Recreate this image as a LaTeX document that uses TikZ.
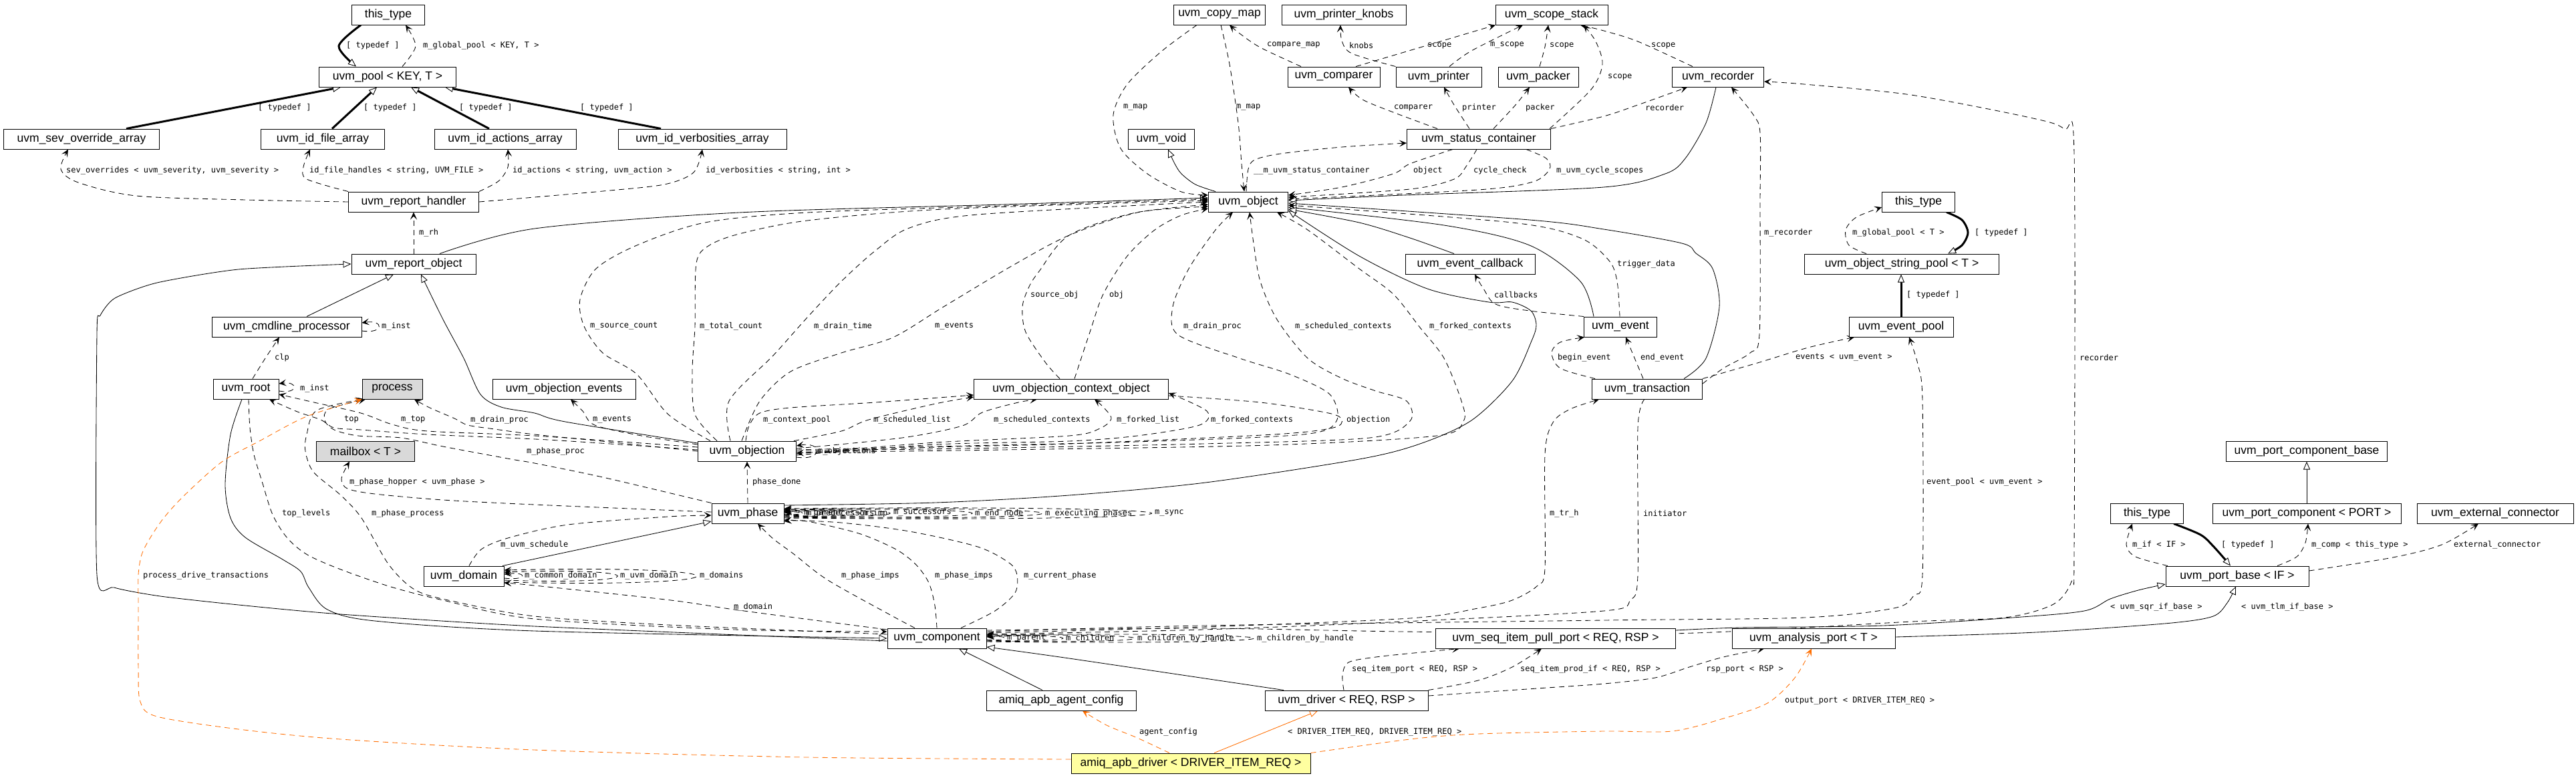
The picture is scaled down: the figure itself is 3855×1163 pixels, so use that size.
\documentclass[tikz,border=0pt]{standalone}
\usepackage{fontspec}
\setmainfont{Liberation Sans}
\newfontfamily\monofnt{DejaVu Sans Mono}
\usetikzlibrary{arrows.meta}
\pgfdeclarelayer{bg}
\pgfsetlayers{bg,main}
\definecolor{orng}{RGB}{255,110,0}
\definecolor{gryf}{RGB}{217,217,217}
\definecolor{ylwf}{RGB}{255,255,160}
\newcommand\nodefnt{\fontsize{17.5}{20}\selectfont}
\newcommand\lblfnt{\monofnt\fontsize{12}{14}\selectfont}
\tikzset{
 cls/.style={draw,line width=1pt,fill=white,minimum height=30pt,inner sep=0pt,font=\nodefnt},
 lbl/.style={font=\lblfnt,inner sep=0pt,anchor=west},
 usg/.style={draw,line width=0.85pt,dash pattern=on 8pt off 6pt,-{Stealth[length=11pt,width=10pt,inset=5pt]}},
 inhr/.style={draw,line width=0.85pt,-{Triangle[length=12pt,width=10pt,line width=0.85pt,fill=white]}},
 tdf/.style={draw,line width=3pt,-{Triangle[length=12pt,width=10pt,line width=0.85pt,fill=white]}},
 org/.style={draw=orng,color=orng},
}
\begin{document}
\begin{tikzpicture}[x=1pt,y=-1pt]
\useasboundingbox (0,0) rectangle (3855,1163);
% ---------- nodes ----------
\node[cls,minimum width=109pt] (tt1) at (581,22) {this\_type};
\node[cls,minimum width=137pt] (copymap) at (1825,22) {uvm\_copy\_map};
\node[cls,minimum width=186pt] (knobs) at (2011,22) {uvm\_printer\_knobs};
\node[cls,minimum width=168pt] (scope) at (2322,22) {uvm\_scope\_stack};
\node[cls,minimum width=205pt] (pool) at (580,115) {uvm\_pool < KEY, T >};
\node[cls,minimum width=138pt] (comparer) at (1996,115) {uvm\_comparer};
\node[cls,minimum width=128pt] (printer) at (2153,115) {uvm\_printer};
\node[cls,minimum width=120pt] (packer) at (2302,115) {uvm\_packer};
\node[cls,minimum width=137pt] (recorder) at (2571,115) {uvm\_recorder};
\node[cls,minimum width=233pt] (sev) at (122,208) {uvm\_sev\_override\_array};
\node[cls,minimum width=185pt] (idfile) at (483,208) {uvm\_id\_file\_array};
\node[cls,minimum width=212pt] (idact) at (756,208) {uvm\_id\_actions\_array};
\node[cls,minimum width=252pt] (idverb) at (1051,208) {uvm\_id\_verbosities\_array};
\node[cls,minimum width=99pt] (void) at (1738,208) {uvm\_void};
\node[cls,minimum width=215pt] (status) at (2213,208) {uvm\_status\_container};
\node[cls,minimum width=195pt] (rh) at (619,302) {uvm\_report\_handler};
\node[cls,minimum width=119pt] (obj) at (1868,302) {uvm\_object};
\node[cls,minimum width=109pt] (tt2) at (2871,302) {this\_type};
\node[cls,minimum width=186pt] (ro) at (619,395) {uvm\_report\_object};
\node[cls,minimum width=194pt] (evcb) at (2200,395) {uvm\_event\_callback};
\node[cls,minimum width=291pt] (osp) at (2846,395) {uvm\_object\_string\_pool < T >};
\node[cls,minimum width=224pt] (clp) at (429,489) {uvm\_cmdline\_processor};
\node[cls,minimum width=109pt] (event) at (2425,489) {uvm\_event};
\node[cls,minimum width=156pt] (evpool) at (2845,489) {uvm\_event\_pool};
\node[cls,minimum width=98pt] (root) at (368,582) {uvm\_root};
\node[cls,minimum width=90pt,fill=gryf] (process) at (587,582) {process};
\node[cls,minimum width=214pt] (objev) at (844,582) {uvm\_objection\_events};
\node[cls,minimum width=291pt] (ctx) at (1603,582) {uvm\_objection\_context\_object};
\node[cls,minimum width=165pt] (tr) at (2465,582) {uvm\_transaction};
\node[cls,minimum width=147pt,fill=gryf] (mailbox) at (547,675) {mailbox < T >};
\node[cls,minimum width=147pt] (objection) at (1118,675) {uvm\_objection};
\node[cls,minimum width=241pt] (pcb) at (3452,675) {uvm\_port\_component\_base};
\node[cls,minimum width=108pt] (phase) at (1119,768) {uvm\_phase};
\node[cls,minimum width=109pt] (tt3) at (3213,768) {this\_type};
\node[cls,minimum width=282pt] (pc) at (3452,768) {uvm\_port\_component < PORT >};
\node[cls,minimum width=234pt] (ext) at (3734,768) {uvm\_external\_connector};
\node[cls,minimum width=120pt] (domain) at (694,862) {uvm\_domain};
\node[cls,minimum width=214pt] (pb) at (3348,862) {uvm\_port\_base < IF >};
\node[cls,minimum width=148pt] (comp) at (1402,955) {uvm\_component};
\node[cls,minimum width=359pt] (sipp) at (2328,955) {uvm\_seq\_item\_pull\_port < REQ, RSP >};
\node[cls,minimum width=244pt] (ap) at (2714,955) {uvm\_analysis\_port < T >};
\node[cls,minimum width=224pt] (cfg) at (1588,1048) {amiq\_apb\_agent\_config};
\node[cls,minimum width=244pt] (drv) at (2015,1048) {uvm\_driver < REQ, RSP >};
\node[cls,minimum width=358pt,fill=ylwf] (amiq) at (1782,1142) {amiq\_apb\_driver < DRIVER\_ITEM\_REQ >};
% ---------- edges ----------
\begin{pgfonlayer}{bg}
\fill[white] (0,0) rectangle (3855,1163);
% top-left cluster
\draw[tdf] plot[smooth] coordinates {([xshift=-41pt]tt1.south) (507,69) ([xshift=-47pt]pool.north)};
\draw[usg] plot[smooth] coordinates {([xshift=22pt]pool.north) (622,69) ([xshift=26pt]tt1.south)};
\draw[tdf] ([xshift=67pt]sev.north) -- ([xshift=-70pt]pool.south);
\draw[tdf] ([xshift=14pt]idfile.north) -- ([xshift=-16pt]pool.south);
\draw[tdf] ([xshift=-24pt]idact.north) -- ([xshift=35pt]pool.south);
\draw[tdf] ([xshift=-62pt]idverb.north) -- ([xshift=86pt]pool.south);
\draw[usg] plot[smooth] coordinates {(rh.west) (367,299) (204,293) (117,273) (91,253) ([xshift=-20pt]sev.south)};
\draw[usg] plot[smooth] coordinates {(rh.north west) (459,268) (454,250) ([xshift=-19pt]idfile.south)};
\draw[usg] plot[smooth] coordinates {(rh.north east) (746,271) (760,250) ([xshift=4pt]idact.south)};
\draw[usg] plot[smooth] coordinates {(rh.east) (800,295) (902,286) (994,276) (1038,258) (idverb.south)};
\draw[usg] (ro.north) -- (rh.south);
\draw[inhr] plot[smooth] coordinates {([xshift=39pt]ro.north) (800,342) (1106,318) (1500,306) ([yshift=6pt]obj.west)};
\draw[inhr] ([xshift=30pt]clp.north) -- ([xshift=-30pt]ro.south);
\draw[usg] ([yshift=-6pt]clp.east) .. controls (575,500) and (575,478) .. ([yshift=6pt]clp.east);
\draw[usg] plot[smooth] coordinates {([xshift=10pt]root.north) (397,536) ([xshift=-11pt]clp.south)};
\draw[usg] ([yshift=-3pt]root.east) .. controls (447,590) and (447,570) .. ([yshift=8pt]root.east);
% objection to root / process / events / report_object
\draw[usg] plot[smooth] coordinates {([yshift=6pt]objection.west) (800,652) (640,645) (587,635) (540,618) (470,602) ([yshift=-8pt]root.east)};
\draw[usg] plot[smooth] coordinates {([yshift=2pt]objection.west) (820,658) (640,650) (540,643) (500,640) (480,628) (445,616) ([xshift=35pt]root.south)};
\draw[usg] plot[smooth] coordinates {(objection.west) (900,660) (800,650) (740,642) (700,636) (680,626) (643,610) ([xshift=33pt]process.south)};
\draw[usg] plot[smooth] coordinates {([yshift=10pt]objection.west) (960,652) (890,636) (872,615) ([xshift=10pt]objev.south)};
\draw[inhr] plot[smooth] coordinates {([yshift=12pt]objection.west) (846,631) (800,618) (750,609) (719,590) (694,536) (663,478) ([xshift=11pt]ro.south)};
% phase left side
\draw[usg] plot[smooth] coordinates {(phase.north west) (902,714) (800,693) (765,687) (663,668) (600,655) (536,652) (500,643) (486,629) (492,612) ([xshift=-40pt]process.south)};
\draw[usg] plot[smooth] coordinates {([yshift=2pt]phase.west) (800,755) (663,748) (561,739) (520,731) (511,716) ([xshift=-24pt]mailbox.south)};
\draw[usg] plot[smooth] coordinates {([xshift=8pt]domain.north) (720,822) (760,805) (850,785) (1000,773) ([yshift=-3pt]phase.west)};
\draw[inhr] ([xshift=58pt]domain.north) -- ([yshift=-12pt]phase.west);
% component left side
\draw[usg] plot[smooth] coordinates {([yshift=6pt]comp.west) (1000,935) (800,922) (680,900) (622,883) (582,845) (541,775) (510,741) (469,706) (457,675) (459,650) (474,614) ([xshift=-44pt]process.south)};
\draw[usg] plot[smooth] coordinates {([xshift=4pt]root.south) (374,640) (380,680) (392,720) (408,770) (430,805) (460,830) (510,852) (585,878) (663,898) (800,926) (1100,942) ([yshift=10pt]comp.west)};
\draw[inhr] plot[smooth] coordinates {([xshift=-6pt]root.south) (345,650) (337,725) (345,775) (367,804) (423,837) (450,855) (462,879) (490,912) (561,929) (800,944) (comp.west)};
\draw[inhr] plot[smooth,tension=0.4] coordinates {([yshift=-4pt]comp.west) (800,937) (510,919) (357,905) (240,892) (171,879) (145,860) (145,500) (150,472) (172,446) (235,423) (357,403) (ro.west)};
\draw[usg] plot[smooth] coordinates {([yshift=13pt]comp.west) (1106,913) (1004,898) (800,876) ([yshift=-10pt]domain.east)};
\draw[usg] ([yshift=-3pt]domain.east) .. controls (790,869) and (790,855) .. ([yshift=3pt]domain.east);
\draw[usg] ([yshift=-6pt]domain.east) .. controls (980,876) and (980,848) .. ([yshift=6pt]domain.east);
\draw[usg] ([yshift=-9pt]domain.east) .. controls (1138,880) and (1138,844) .. ([yshift=9pt]domain.east);
% component to phase
\draw[usg] plot[smooth] coordinates {([xshift=-33pt]comp.north) (1336,922) (1239,868) (1188,829) (1157,806) ([xshift=15pt]phase.south)};
\draw[usg] plot[smooth] coordinates {(comp.north) (1399,906) (1390,872) (1371,845) (1341,822) (1285,798) (1208,780) ([yshift=-12pt]phase.east)};
\draw[usg] plot[smooth] coordinates {([xshift=36pt]comp.north) (1489,914) (1519,887) (1522,860) (1510,842) (1463,818) (1361,795) (1259,782) ([yshift=-10pt]phase.east)};
\draw[usg] (phase.north) -- (objection.south);
% phase self loops
\draw[usg] ([yshift=-1pt]phase.east) .. controls (1206,772) and (1206,764) .. ([yshift=1pt]phase.east);
\draw[usg] ([yshift=-2pt]phase.east) .. controls (1209,774) and (1209,762) .. ([yshift=2pt]phase.east);
\draw[usg] ([yshift=-3pt]phase.east) .. controls (1325,776) and (1325,760) .. ([yshift=3pt]phase.east);
\draw[usg] ([yshift=-4pt]phase.east) .. controls (1384,777) and (1384,759) .. ([yshift=4pt]phase.east);
\draw[usg] ([yshift=-5pt]phase.east) .. controls (1548,779) and (1548,757) .. ([yshift=5pt]phase.east);
\draw[usg] ([yshift=-6pt]phase.east) .. controls (1688,780) and (1688,756) .. ([yshift=6pt]phase.east);
\draw[usg] ([yshift=-7pt]phase.east) .. controls (1906,782) and (1906,754) .. ([yshift=7pt]phase.east);
\draw[inhr] plot[smooth] coordinates {([yshift=12pt]phase.east) (1400,752) (1600,741) (1804,722) (2034,687) (2125,664) (2202,629) (2263,570) (2292,510) (2299,486) (2291,465) (2263,452) (2228,452) (2136,432) (2034,383) ([yshift=-13pt]obj.east)};
% component self loops
\draw[usg] ([yshift=-2pt]comp.east) .. controls (1511,960) and (1511,950) .. ([yshift=2pt]comp.east);
\draw[usg] ([yshift=-3pt]comp.east) .. controls (1628,962) and (1628,948) .. ([yshift=3pt]comp.east);
\draw[usg] ([yshift=-4pt]comp.east) .. controls (1771,964) and (1771,946) .. ([yshift=4pt]comp.east);
\draw[usg] ([yshift=-5pt]comp.east) .. controls (2009,966) and (2009,944) .. ([yshift=5pt]comp.east);
% component right side
\draw[usg] plot[smooth] coordinates {([xshift=-4pt]tr.south) (2451,640) (2451,860) (2440,898) (2400,914) (2100,930) (1800,942) ([yshift=6pt]comp.east)};
\draw[usg] plot[smooth] coordinates {([yshift=8pt]comp.east) (1800,938) (2110,925) (2212,910) (2263,898) (2300,877) (2312,850) (2312,680) (2324,632) (2350,612) ([xshift=-72pt]tr.south)};
\draw[usg] plot[smooth] coordinates {([yshift=10pt]comp.east) (1800,936) (2400,928) (2700,924) (2834,910) (2864,891) (2877,860) (2877,600) (2870,545) ([xshift=12pt]evpool.south)};
\draw[usg] plot[smooth] coordinates {([yshift=12pt]comp.east) (1800,940) (2100,945) (2500,948) (2861,930) (3000,924) (3073,904) (3100,870) (3104,820) (3104,230) (3089,193) (3038,176) (2860,142) (2700,126) ([yshift=-7pt]recorder.east)};
% objection to object
\draw[usg] plot[smooth] coordinates {([xshift=-55pt]objection.north) (1000,620) (953,560) (902,528) (874,488) (868,448) (892,402) (953,367) (1055,333) (1208,318) (1500,308) ([yshift=4pt]obj.west)};
\draw[usg] plot[smooth] coordinates {([xshift=-45pt]objection.north) (1040,620) (1036,555) (1040,488) (1042,394) (1060,368) (1106,350) (1208,330) (1412,313) ([yshift=2pt]obj.west)};
\draw[usg] plot[smooth] coordinates {([xshift=-25pt]objection.north) (1091,600) (1157,532) (1208,475) (1259,421) (1310,375) (1361,341) (1463,321) (obj.west)};
\draw[usg] plot[smooth] coordinates {([xshift=-8pt]objection.north) (1137,600) (1183,556) (1259,528) (1336,505) (1412,459) (1514,398) (1600,352) (1702,318) ([yshift=-4pt]obj.west)};
\draw[usg] plot[smooth] coordinates {([yshift=2pt]objection.east) (1400,668) (1700,661) (1950,650) (2000,630) (1990,590) (1930,560) (1855,536) (1763,501) (1755,459) (1779,402) (1819,344) ([xshift=-23pt]obj.south)};
\draw[usg] plot[smooth] coordinates {(objection.east) (1500,670) (1800,664) (2050,655) (2110,630) (2105,600) (2059,585) (2008,566) (1957,536) (1911,478) (1886,421) (1876,364) ([xshift=2pt]obj.south)};
\draw[usg] plot[smooth] coordinates {([yshift=-2pt]objection.east) (1500,673) (1900,666) (2150,652) (2190,630) (2187,600) (2161,536) (2125,490) (2085,440) (2034,402) (1957,344) ([xshift=43pt]obj.south)};
% objection to context object
\draw[usg] plot[smooth] coordinates {([xshift=-2pt]objection.north) (1121,637) (1137,618) (1183,610) (1310,602) ([yshift=-9pt]ctx.west)};
\draw[usg] plot[smooth] coordinates {([xshift=70pt]objection.north) (1259,645) (1300,628) (1400,604) ([yshift=-12pt]ctx.west)};
\draw[usg] plot[smooth] coordinates {([yshift=4pt]objection.east) (1350,655) (1440,637) (1470,617) (1524,602) ([xshift=-51pt]ctx.south)};
\draw[usg] plot[smooth] coordinates {([yshift=-4pt]objection.east) (1400,662) (1600,652) (1646,641) (1663,626) (1650,608) ([xshift=35pt]ctx.south)};
\draw[usg] plot[smooth] coordinates {([yshift=-6pt]objection.east) (1400,665) (1600,660) (1702,652) (1795,636) (1806,615) ([yshift=-6pt]ctx.east)};
\draw[usg] plot[smooth] coordinates {([yshift=-10pt]ctx.east) (1886,602) (1988,618) (2008,628) (1995,640) (1906,650) (1600,664) (1400,669) ([yshift=-3pt]objection.east)};
\draw[usg] ([yshift=-9pt]objection.east) .. controls (1232,690) and (1232,660) .. ([yshift=8pt]objection.east);
\draw[usg] plot[smooth] coordinates {([xshift=-17pt]ctx.north) (1565,543) (1535,497) (1530,459) (1540,429) (1555,406) (1600,352) (1700,318) ([yshift=-7pt]obj.west)};
\draw[usg] plot[smooth] coordinates {([xshift=5pt]ctx.north) (1631,497) (1651,440) (1687,383) (1728,344) (1768,322) ([yshift=-10pt]obj.west)};
% object top cluster
\draw[usg] plot[smooth] coordinates {([xshift=-3pt]obj.north) (1868,253) (1878,239) (1916,230) (2008,220) ([yshift=-6pt]status.west)};
\draw[usg] plot[smooth] coordinates {([xshift=-39pt]status.south) (2110,245) (2085,260) (2008,280) ([yshift=10pt]obj.east)};
\draw[usg] plot[smooth] coordinates {([xshift=-3pt]status.south) (2194,249) (2176,268) (2110,283) ([yshift=7pt]obj.east)};
\draw[usg] plot[smooth] coordinates {([xshift=71pt]status.south) (2314,237) (2319,253) (2294,272) (2212,284) ([yshift=4pt]obj.east)};
\draw[inhr] plot[smooth] coordinates {([xshift=-49pt]obj.north) (1789,276) (1768,260) (1758,245) ([xshift=10pt]void.south)};
\draw[usg] plot[smooth] coordinates {([xshift=-34pt]copymap.south) (1738,77) (1687,126) (1666,172) (1677,222) (1717,260) (1768,287) ([yshift=10pt]obj.west)};
\draw[usg] plot[smooth] coordinates {([xshift=2pt]copymap.south) (1840,96) (1853,184) (1858,245) ([xshift=-6pt]obj.north)};
\draw[usg] plot[smooth] coordinates {([xshift=-49pt]comparer.north) (1886,71) (1855,50) ([xshift=15pt]copymap.south)};
\draw[usg] plot[smooth] coordinates {(printer.north west) (2023,80) (2008,61) ([xshift=-5pt]knobs.south)};
\draw[usg] ([xshift=33pt]comparer.north) -- ([xshift=-84pt]scope.south);
\draw[usg] plot[smooth] coordinates {([xshift=16pt]printer.north) (2202,76) ([xshift=-43pt]scope.south)};
\draw[usg] plot[smooth] coordinates {([xshift=2pt]packer.north) (2312,70) ([xshift=-5pt]scope.south)};
\draw[usg] plot[smooth] coordinates {([xshift=-38pt]recorder.north) (2451,62) (2400,46) ([xshift=43pt]scope.south)};
\draw[usg] plot[smooth] coordinates {([xshift=106pt]status.north) (2381,134) (2398,96) (2388,62) ([xshift=48pt]scope.south)};
\draw[usg] plot[smooth] coordinates {([xshift=-62pt]status.north) (2085,168) (2039,149) ([xshift=22pt]comparer.south)};
\draw[usg] plot[smooth] coordinates {([xshift=-14pt]status.north) (2176,157) ([xshift=8pt]printer.south)};
\draw[usg] plot[smooth] coordinates {([xshift=22pt]status.north) (2268,157) ([xshift=-13pt]packer.south)};
\draw[usg] plot[smooth] coordinates {(status.north east) (2400,174) (2451,157) ([xshift=-46pt]recorder.south)};
\draw[inhr] plot[smooth] coordinates {([xshift=-3pt]recorder.south) (2553,184) (2522,237) (2492,260) (2400,280) (2100,292) ([yshift=2pt]obj.east)};
\draw[inhr] plot[smooth] coordinates {([xshift=55pt]tr.north) (2553,536) (2573,459) (2563,402) (2538,379) (2517,364) (2400,343) (2289,329) ([yshift=-2pt]obj.east)};
\draw[inhr] plot[smooth] coordinates {([xshift=-40pt]event.north) (2365,421) (2289,367) (2161,337) ([yshift=-8pt]obj.east)};
\draw[usg] plot[smooth] coordinates {([xshift=-1pt]event.north) (2420,421) (2408,390) (2365,356) (2263,333) ([yshift=-5pt]obj.east)};
\draw[inhr] plot[smooth] coordinates {([xshift=-24pt]evcb.north) (2110,356) (2034,333) ([yshift=-11pt]obj.east)};
\draw[usg] plot[smooth] coordinates {(event.north west) (2289,465) (2238,455) (2220,432) ([xshift=7pt]evcb.south)};
\draw[usg] plot[smooth] coordinates {([yshift=8pt]tr.east) (2579,551) (2619,528) (2633,500) (2634,300) (2634,199) (2624,172) ([xshift=20pt]recorder.south)};
\draw[usg] plot[smooth] coordinates {(tr.north east) (2630,543) (2706,520) ([xshift=-70pt]evpool.south)};
\draw[usg] plot[smooth] coordinates {([xshift=-78pt]tr.north) (2335,551) (2322,528) (2335,512) ([xshift=-54pt]event.south)};
\draw[usg] ([xshift=-6pt]tr.north) -- ([xshift=8pt]event.south);
\draw[usg] plot[smooth] coordinates {([xshift=-53pt]osp.north) (2767,367) (2762,344) (2778,325) ([yshift=-8pt]tt2.west)};
\draw[tdf] plot[smooth] coordinates {([xshift=42pt]tt2.south) (2936,329) (2945,348) (2936,367) ([xshift=69pt]osp.north)};
\draw[tdf] (evpool.north) -- ([xshift=-1pt]osp.south);
% port cluster
\draw[inhr] (pc.north) -- (pcb.south);
\draw[usg] plot[smooth] coordinates {([xshift=-104pt]pb.north) (3196,833) (3182,815) ([xshift=-22pt]tt3.south)};
\draw[tdf] plot[smooth] coordinates {([xshift=40pt]tt3.south) (3293,800) (3312,817) ([xshift=-10pt]pb.north)};
\draw[usg] plot[smooth] coordinates {([xshift=60pt]pb.north) (3437,833) (3450,812) ([xshift=2pt]pc.south)};
\draw[usg] plot[smooth] coordinates {([yshift=8pt]pb.east) (3581,834) (3654,815) ([xshift=-25pt]ext.south)};
\draw[inhr] plot[smooth] coordinates {([yshift=12pt]sipp.east) (2604,939) (2818,936) (3012,924) (3119,914) (3158,896) (3200,883) ([yshift=-12pt]pb.west)};
\draw[inhr] plot[smooth] coordinates {([yshift=2pt]ap.east) (3000,948) (3100,943) (3250,932) (3312,922) (3333,902) ([xshift=-2pt]pb.south)};
% drivers
\draw[inhr] plot[smooth] coordinates {([xshift=-94pt]drv.north) (1600,985) ([yshift=-13pt]comp.east)};
\draw[inhr] ([xshift=-28pt]cfg.north) -- ([xshift=33pt]comp.south);
\draw[usg] plot[smooth] coordinates {([xshift=-4pt]drv.north) (2009,1010) (2018,991) (2059,983) (2136,975) ([xshift=-144pt]sipp.south)};
\draw[usg] plot[smooth] coordinates {(drv.north east) (2212,1018) (2263,998) ([xshift=-21pt]sipp.south)};
\draw[usg] plot[smooth] coordinates {([yshift=7pt]drv.east) (2300,1030) (2400,1023) (2477,1014) (2528,998) (2579,983) ([xshift=-74pt]ap.south)};
\draw[inhr,org] ([xshift=35pt]amiq.north) -- ([xshift=-43pt]drv.south);
\draw[usg,org] plot[smooth] coordinates {([xshift=-32pt]amiq.north) (1702,1104) (1656,1085) ([xshift=32pt]cfg.south)};
\draw[usg,org] plot[smooth] coordinates {(amiq.north east) (2110,1106) (2212,1098) (2400,1094) (2502,1094) (2579,1075) (2645,1052) (2686,1014) ([xshift=-3pt]ap.south)};
\draw[usg,org] plot[smooth] coordinates {([yshift=6pt]amiq.west) (1208,1133) (800,1122) (510,1106) (357,1091) (235,1072) (210,1050) (207,1000) (207,906) (207,860) (212,830) (224,806) (245,775) (276,741) (332,691) (388,660) (459,623) (process.south west)};
\end{pgfonlayer}
% ---------- labels ----------
\node[lbl] (a1) at (518,68) {[ typedef ]};
\node[lbl] (a2) at (633,68) {m\_global\_pool < KEY, T >};
\node[lbl] (a3) at (386,161) {[ typedef ]};
\node[lbl] (a4) at (544,161) {[ typedef ]};
\node[lbl] (a5) at (687,161) {[ typedef ]};
\node[lbl] (a6) at (868,161) {[ typedef ]};
\node[lbl] (a7) at (99,255) {sev\_overrides < uvm\_severity, uvm\_severity >};
\node[lbl] (a8) at (463,255) {id\_file\_handles < string, UVM\_FILE >};
\node[lbl] (a9) at (767,255) {id\_actions < string, uvm\_action >};
\node[lbl] (a10) at (1056,255) {id\_verbosities < string, int >};
\node[lbl] (a11) at (627,348) {m\_rh};
\node[lbl] (a12) at (571,488) {m\_inst};
\node[lbl] (a13) at (411,535) {clp};
\node[lbl] (a14) at (449,581) {m\_inst};
\node[lbl] (a15) at (515,628) {top};
\node[lbl] (a16) at (600,628) {m\_top};
\node[lbl] (a17) at (704,628) {m\_drain\_proc};
\node[lbl] (a18) at (788,675) {m\_phase\_proc};
\node[lbl] (a19) at (523,721) {m\_phase\_hopper < uvm\_phase >};
\node[lbl] (a20) at (422,768) {top\_levels};
\node[lbl] (a21) at (556,768) {m\_phase\_process};
\node[lbl] (a22) at (214,861) {process\_drive\_transactions};
\node[lbl] (a23) at (749,815) {m\_uvm\_schedule};
\node[lbl] (a24) at (785,861) {m\_common\_domain};
\node[lbl] (a25) at (928,861) {m\_uvm\_domain};
\node[lbl] (a26) at (1047,861) {m\_domains};
\node[lbl] (a27) at (1098,908) {m\_domain};
\node[lbl] (a28) at (887,628) {m\_events};
\node[lbl] (a29) at (1142,628) {m\_context\_pool};
\node[lbl] (a30) at (1307,628) {m\_scheduled\_list};
\node[lbl] (a31) at (1487,628) {m\_scheduled\_contexts};
\node[lbl] (a32) at (1671,628) {m\_forked\_list};
\node[lbl] (a33) at (1812,628) {m\_forked\_contexts};
\node[lbl] (a34) at (2015,628) {objection};
\node[lbl] (a35) at (1224,675) {m\_objections};
\node[lbl] (a36) at (1126,721) {phase\_done};
\node[lbl] (a37) at (1203,768) {m\_parent};
\node[lbl] (a38) at (1207,768) {m\_predecessors};
\node[lbl] (a39) at (1292,768) {m\_imp};
\node[lbl] (a40) at (1337,768) {m\_successors};
\node[lbl] (a41) at (1459,768) {m\_end\_node};
\node[lbl] (a42) at (1564,768) {m\_executing\_phases};
\node[lbl] (a43) at (1728,768) {m\_sync};
\node[lbl] (a44) at (1259,861) {m\_phase\_imps};
\node[lbl] (a45) at (1399,861) {m\_phase\_imps};
\node[lbl] (a46) at (1532,861) {m\_current\_phase};
\node[lbl] (a47) at (1507,955) {m\_parent};
\node[lbl] (a48) at (1595,955) {m\_children};
\node[lbl] (a49) at (1702,955) {m\_children\_by\_handle};
\node[lbl] (a50) at (1881,955) {m\_children\_by\_handle};
\node[lbl] (a51) at (2319,768) {m\_tr\_h};
\node[lbl] (a52) at (2459,768) {initiator};
\node[lbl] (a53) at (2883,721) {event\_pool < uvm\_event >};
\node[lbl] (a54) at (2023,1001) {seq\_item\_port < REQ, RSP >};
\node[lbl] (a55) at (2275,1001) {seq\_item\_prod\_if < REQ, RSP >};
\node[lbl] (a56) at (2553,1001) {rsp\_port < RSP >};
\node[lbl] (a57) at (1705,1095) {agent\_config};
\node[lbl] (a58) at (1927,1095) {< DRIVER\_ITEM\_REQ, DRIVER\_ITEM\_REQ >};
\node[lbl] (a59) at (2671,1048) {output\_port < DRIVER\_ITEM\_REQ >};
\node[lbl] (a60) at (3158,908) {< uvm\_sqr\_if\_base >};
\node[lbl] (a61) at (3354,908) {< uvm\_tlm\_if\_base >};
\node[lbl] (a62) at (3191,815) {m\_if < IF >};
\node[lbl] (a63) at (3324,815) {[ typedef ]};
\node[lbl] (a64) at (3459,815) {m\_comp < this\_type >};
\node[lbl] (a65) at (3672,815) {external\_connector};
\node[lbl] (a66) at (1681,161) {m\_map};
\node[lbl] (a67) at (1850,161) {m\_map};
\node[lbl] (a68) at (1896,68) {compare\_map};
\node[lbl] (a69) at (2019,68) {knobs};
\node[lbl] (a70) at (2136,68) {scope};
\node[lbl] (a71) at (2230,68) {m\_scope};
\node[lbl] (a72) at (2319,68) {scope};
\node[lbl] (a73) at (2086,161) {comparer};
\node[lbl] (a74) at (2188,161) {printer};
\node[lbl] (a75) at (2283,161) {packer};
\node[lbl] (a76) at (1876,255) {\_\_m\_uvm\_status\_container};
\node[lbl] (a77) at (2115,255) {object};
\node[lbl] (a78) at (2205,255) {cycle\_check};
\node[lbl] (a79) at (2329,255) {m\_uvm\_cycle\_scopes};
\node[lbl] (a80) at (1542,441) {source\_obj};
\node[lbl] (a81) at (1660,441) {obj};
\node[lbl] (a82) at (2236,441) {callbacks};
\node[lbl] (a83) at (883,488) {m\_source\_count};
\node[lbl] (a84) at (1047,488) {m\_total\_count};
\node[lbl] (a85) at (1218,488) {m\_drain\_time};
\node[lbl] (a86) at (1399,488) {m\_events};
\node[lbl] (a87) at (1771,488) {m\_drain\_proc};
\node[lbl] (a88) at (1938,488) {m\_scheduled\_contexts};
\node[lbl] (a89) at (2139,488) {m\_forked\_contexts};
\node[lbl] (a90) at (2331,535) {begin\_event};
\node[lbl] (a91) at (2471,68) {scope};
\node[lbl] (a92) at (2406,115) {scope};
\node[lbl] (a93) at (2462,161) {recorder};
\node[lbl] (a94) at (2640,348) {m\_recorder};
\node[lbl] (a95) at (2772,348) {m\_global\_pool < T >};
\node[lbl] (a96) at (2955,348) {[ typedef ]};
\node[lbl] (a97) at (2420,395) {trigger\_data};
\node[lbl] (a98) at (2853,441) {[ typedef ]};
\node[lbl] (a99) at (2455,535) {end\_event};
\node[lbl] (a100) at (2687,535) {events < uvm\_event >};
\node[lbl] (a101) at (3112,535) {recorder};
\end{tikzpicture}
\end{document}
